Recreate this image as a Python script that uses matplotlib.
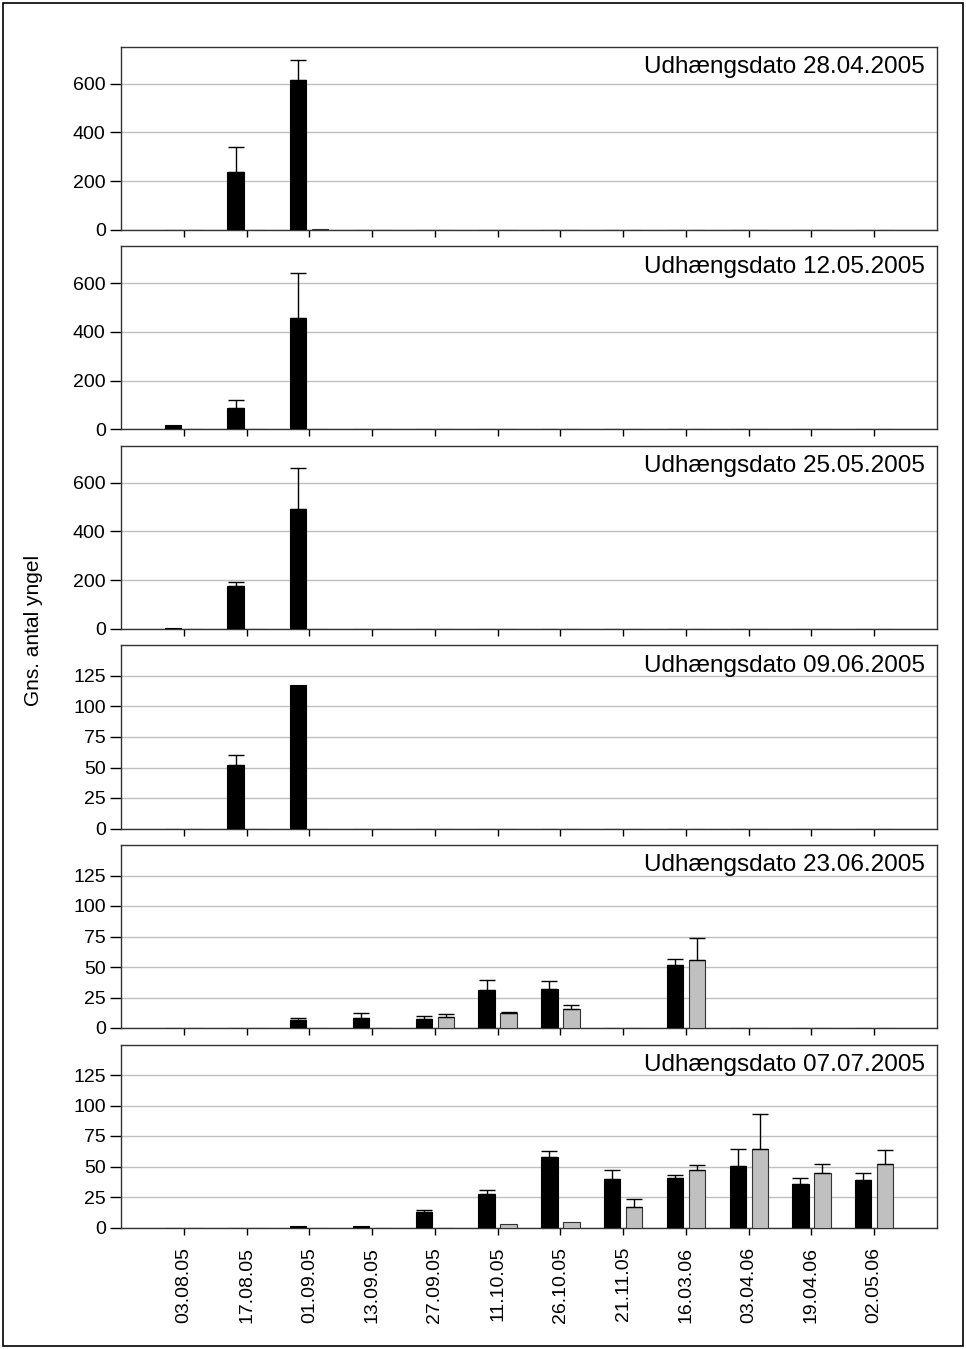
import matplotlib
matplotlib.use('Agg')
import matplotlib.pyplot as plt
import numpy as np
from matplotlib.patches import Rectangle

plt.rcParams['font.family'] = ['Liberation Sans', 'DejaVu Sans']

nan = np.nan

datoer = ['03.08.05', '17.08.05', '01.09.05', '13.09.05', '27.09.05', '11.10.05',
          '26.10.05', '21.11.05', '16.03.06', '03.04.06', '19.04.06', '02.05.06']

titler = ['Udhængsdato 28.04.2005', 'Udhængsdato 12.05.2005', 'Udhængsdato 25.05.2005',
          'Udhængsdato 09.06.2005', 'Udhængsdato 23.06.2005', 'Udhængsdato 07.07.2005']

# sorte søjler (gennemsnit) og fejl (kun opad)
sort_1 = [0, 238, 616, 0, 0, 0, 0, 0, 0, 0, 0, 0]
sort_1_fejl = [nan, 101, 81, nan, nan, nan, nan, nan, nan, nan, nan, nan]
graa_1 = [0, 0, 3, 0, 0, 0, 0, 0, 0, 0, 0, 0]
graa_1_fejl = [nan] * 12

sort_2 = [20, 89, 458, 0, 0, 0, 0, 0, 0, 0, 0, 0]
sort_2_fejl = [nan, 33, 183, nan, nan, nan, nan, nan, nan, nan, nan, nan]
graa_2 = [0] * 12
graa_2_fejl = [nan] * 12

sort_3 = [5, 176, 490, 0, 0, 0, 0, 0, 0, 0, 0, 0]
sort_3_fejl = [nan, 15, 170, nan, nan, nan, nan, nan, nan, nan, nan, nan]
graa_3 = [0] * 12
graa_3_fejl = [nan] * 12

sort_4 = [0, 52, 118, 0, 0, 0, 0, 0, 0, 0, 0, 0]
sort_4_fejl = [nan, 8, nan, nan, nan, nan, nan, nan, nan, nan, nan, nan]
graa_4 = [0] * 12
graa_4_fejl = [nan] * 12

sort_5 = [0, 0, 6.5, 8.6, 7.6, 30.9, 31.7, 0, 52, 0, 0, 0]
sort_5_fejl = [nan, nan, 1.5, 3.8, 2.2, 8.7, 7.0, nan, 4.4, nan, nan, nan]
graa_5 = [0, 0, 0, 0, 9.2, 11.9, 15.5, 0, 55.6, 0, 0, 0]
graa_5_fejl = [nan, nan, nan, nan, 2.2, 1.4, 3.5, nan, 18.1, nan, nan, nan]

sort_6 = [0, 0, 1.4, 1.6, 12.8, 27.6, 57.5, 39.6, 40.4, 50.7, 35.3, 39.0]
sort_6_fejl = [nan, nan, nan, nan, 1.8, 3.3, 5.4, 7.3, 2.7, 13.5, 5.4, 5.7]
graa_6 = [0, 0, 0, 0, 0, 2.8, 4.1, 16.6, 47.5, 64.0, 44.5, 51.8]
graa_6_fejl = [nan, nan, nan, nan, nan, nan, nan, 6.5, 3.7, 29.0, 7.3, 11.9]

sorte = [sort_1, sort_2, sort_3, sort_4, sort_5, sort_6]
sorte_fejl = [sort_1_fejl, sort_2_fejl, sort_3_fejl, sort_4_fejl, sort_5_fejl, sort_6_fejl]
graa = [graa_1, graa_2, graa_3, graa_4, graa_5, graa_6]
graa_fejl = [graa_1_fejl, graa_2_fejl, graa_3_fejl, graa_4_fejl, graa_5_fejl, graa_6_fejl]

store_ticks = [0, 200, 400, 600]
smaa_ticks = [0, 25, 50, 75, 100, 125]

W, H = 966, 1349
fig = plt.figure(figsize=(W / 100, H / 100), dpi=100)

# ramme om hele figuren
fig.patches.append(Rectangle((3 / W, 3 / H), (W - 6) / W, (H - 6) / H, transform=fig.transFigure,
                             fill=False, edgecolor='black', linewidth=1.2))

x = np.arange(len(datoer))
bredde = 0.26
forskyd = 0.175
venstre, hoejre = 121, 937
panel_h = 183
toppe = [47, 246.5, 446, 645.5, 845, 1044.5]

for i in range(6):
    top = toppe[i]
    ax = fig.add_axes([venstre / W, 1 - (top + panel_h) / H, (hoejre - venstre) / W, panel_h / H])

    ax.bar(x - forskyd, sorte[i], bredde, color='black', edgecolor='black', linewidth=0.8, zorder=3)
    ax.bar(x + forskyd, graa[i], bredde, color='#c0c0c0', edgecolor='#333333', linewidth=0.8, zorder=3)

    s = np.array(sorte[i], dtype=float)
    sf = np.array(sorte_fejl[i], dtype=float)
    ok = ~np.isnan(sf)
    if ok.any():
        ax.errorbar(x[ok] - forskyd, s[ok], yerr=[np.zeros(ok.sum()), sf[ok]], fmt='none',
                    ecolor='black', elinewidth=1, capsize=6, capthick=1, zorder=4)
    g = np.array(graa[i], dtype=float)
    gf = np.array(graa_fejl[i], dtype=float)
    ok = ~np.isnan(gf)
    if ok.any():
        ax.errorbar(x[ok] + forskyd, g[ok], yerr=[np.zeros(ok.sum()), gf[ok]], fmt='none',
                    ecolor='black', elinewidth=1, capsize=6, capthick=1, zorder=4)

    ax.set_xlim(-1, len(datoer))
    if i < 3:
        ax.set_ylim(0, 750)
        ax.set_yticks(store_ticks)
    else:
        ax.set_ylim(0, 150)
        ax.set_yticks(smaa_ticks)

    ax.yaxis.grid(True, color='#c0c0c0', linewidth=1, zorder=0)
    ax.set_axisbelow(True)
    ax.set_xticks(x)
    if i == 5:
        ax.set_xticklabels(datoer, rotation=90, fontsize=14)
    else:
        ax.set_xticklabels([])
    ax.tick_params(axis='x', direction='out', length=5, width=1, pad=9)
    ax.tick_params(axis='y', direction='out', length=8, width=1, labelsize=14, pad=3)
    for sp in ax.spines.values():
        sp.set_color('#333333')
        sp.set_linewidth(1)

    ax.text(0.985, 0.95, titler[i], transform=ax.transAxes, ha='right', va='top', fontsize=17.5)

fig.text(34 / W, 1 - 630 / H, 'Gns. antal yngel', rotation=90, ha='center', va='center', fontsize=15)

fig.savefig('out.png', dpi=100)
